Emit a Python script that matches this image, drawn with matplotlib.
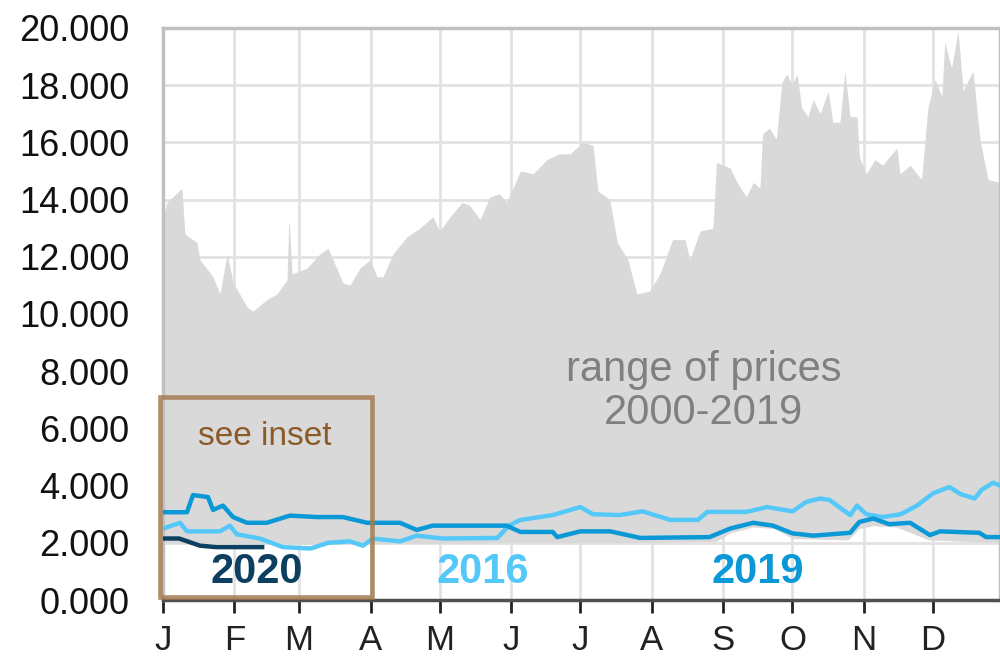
import numpy as np
import matplotlib
matplotlib.use("Agg")
import matplotlib.pyplot as plt
from matplotlib.patches import Rectangle

plt.rcParams["font.family"] = ["Liberation Sans", "DejaVu Sans"]

# ── Data (day of year, price) ─────────────────────────────────────────
month_starts = [0, 31, 59, 90, 120, 151, 181, 212, 243, 273, 304, 334]
month_labels = ["J", "F", "M", "A", "M", "J", "J", "A", "S", "O", "N", "D"]

range_hi_day = [0, 1.7, 8.2, 9.5, 14.7, 16, 21.7, 24.7, 27.8, 30.4, 36.4, 39, 45, 49.4,
                53.8, 54.6, 56, 62.4, 68, 71.6, 73.7, 78, 81, 85.4, 89.8, 92.8, 95.4,
                99.7, 105.8, 111.4, 117, 120, 124.5, 129.7, 133, 137.5, 141.8, 146, 149,
                155, 160.5, 166.5, 172, 176.5, 182, 186.5, 188.6, 193.8, 197, 201.6,
                205.5, 211, 215.5, 221, 226.4, 228.5, 232.9, 238.5, 240, 246, 249, 253,
                256, 258.9, 260, 263, 266, 268.4, 270.6, 272.8, 275, 277, 279.7, 282,
                285, 288.5, 290.5, 293.6, 295.7, 298, 301, 302, 305, 308.8, 312, 318.3,
                319.6, 324, 329, 331.7, 334.8, 337.8, 339, 342, 344.8, 347, 351.3,
                354.3, 357.8, 363]
range_hi = [13.4, 13.9, 14.4, 12.8, 12.5, 11.9, 11.3, 10.7, 12.1, 11.1, 10.25, 10.1, 10.5,
            10.7, 11.2, 13.4, 11.4, 11.6, 12.1, 12.3, 11.9, 11.1, 11.0, 11.6, 11.9, 11.3,
            11.3, 12.1, 12.7, 13.0, 13.4, 12.9, 13.4, 13.9, 13.8, 13.3, 14.1, 14.2, 13.9,
            15.0, 14.9, 15.4, 15.6, 15.6, 16.0, 15.9, 14.3, 14.0, 12.5, 11.9, 10.7, 10.8,
            11.4, 12.6, 12.6, 11.9, 12.9, 13.0, 15.3, 15.1, 14.6, 14.1, 14.6, 14.4, 16.3,
            16.5, 16.1, 18.1, 18.4, 18.0, 18.4, 17.2, 16.9, 17.5, 17.0, 17.8, 16.7, 16.7,
            18.5, 16.9, 16.9, 15.5, 14.9, 15.4, 15.2, 15.8, 14.9, 15.2, 14.7, 17.2, 18.2,
            17.6, 19.5, 18.6, 19.9, 17.8, 18.5, 16.1, 14.7, 14.6]

range_lo_day = [0, 60, 150, 200, 240, 246, 256, 265, 273, 297, 302, 308, 318, 326, 332, 363]
range_lo = [2.0, 1.95, 2.0, 2.0, 2.05, 2.35, 2.55, 2.5, 2.15, 2.1, 2.5, 2.6, 2.55, 2.3, 2.1, 2.0]

y2019_day = [0, 10.4, 13, 19.5, 21.7, 26, 30.4, 36.4, 45, 55, 66.8, 78, 88.5, 102.8, 110,
             117, 149, 155, 169, 171, 181, 194, 198, 207, 237, 246, 256, 264.5, 273, 282,
             298, 302, 308, 315, 324, 332.6, 337, 354, 357, 363]
y2019 = [3.07, 3.07, 3.67, 3.6, 3.15, 3.3, 2.9, 2.7, 2.7, 2.95, 2.9, 2.9, 2.7, 2.7, 2.45,
         2.6, 2.6, 2.38, 2.38, 2.2, 2.4, 2.4, 2.33, 2.17, 2.2, 2.5, 2.7, 2.6, 2.33, 2.25,
         2.35, 2.73, 2.85, 2.65, 2.7, 2.27, 2.4, 2.35, 2.2, 2.2]

y2016_day = [0, 7.4, 10.4, 16, 24.7, 29, 32, 42, 52, 64, 71.6, 81, 86.7, 91, 102.8, 110,
             121.4, 145, 150, 155, 169, 181, 186.5, 198, 208, 220, 232, 236, 253, 262, 273,
             279, 285, 289, 298, 301, 305, 312, 320, 327, 334, 341, 346, 352, 355, 360, 363]
y2016 = [2.5, 2.7, 2.4, 2.4, 2.4, 2.6, 2.3, 2.15, 1.85, 1.8, 2.0, 2.05, 1.9, 2.15, 2.05,
         2.25, 2.15, 2.17, 2.6, 2.8, 2.97, 3.25, 3.0, 2.97, 3.1, 2.8, 2.8, 3.08, 3.08, 3.25,
         3.1, 3.43, 3.55, 3.5, 2.97, 3.3, 3.0, 2.9, 3.0, 3.3, 3.73, 3.95, 3.7, 3.55, 3.85,
         4.1, 4.0]

y2020_day = [0, 7, 16, 23, 43]
y2020 = [2.15, 2.15, 1.9, 1.85, 1.85]

# ── Plot ──────────────────────────────────────────────────────────────
fig = plt.figure(figsize=(10, 6.6), dpi=100)
ax = fig.add_axes([0.163, 0.0909, 0.837, 0.8667])

days = np.linspace(0, 363, 1500)
hi = np.interp(days, range_hi_day, range_hi)
lo = np.interp(days, range_lo_day, range_lo)
ax.fill_between(days, lo, hi, color="#d9d9d9", linewidth=0, zorder=1)

ax.plot(y2016_day, y2016, color="#55c8fa", linewidth=3.2, zorder=3)
ax.plot(y2019_day, y2019, color="#0a98d6", linewidth=3.2, zorder=4)
ax.plot(y2020_day, y2020, color="#0d4060", linewidth=3.2, zorder=5)

ax.set_xlim(0, 363)
ax.set_ylim(0, 20)
ax.set_xticks(month_starts)
ax.set_xticklabels(month_labels)
ax.set_yticks(np.arange(0, 21, 2))
ax.set_yticklabels([f"{v:.3f}" for v in np.arange(0, 21, 2)])
ax.grid(True, color="#e2e2e2", linewidth=2.0, zorder=0)
ax.set_axisbelow(True)

ax.tick_params(axis="y", length=0, pad=24, labelsize=26, colors="#111111")
ax.tick_params(axis="x", length=9, width=2, pad=8, labelsize=25,
               colors="#222222", direction="out")

for side in ["top", "left", "right"]:
    ax.spines[side].set_color("#c0c0c0")
    ax.spines[side].set_linewidth(2.5)
ax.spines["bottom"].set_color("#505050")
ax.spines["bottom"].set_linewidth(2.5)
ax.spines["bottom"].set_zorder(6)

# Annotations
ax.text(234.6, 7.3, "range of prices\n2000-2019", color="#808080", fontsize=30,
        ha="center", va="center", linespacing=1.1, zorder=6)
ax.text(44, 5.73, "see inset", color="#8c5a28", fontsize=24,
        ha="center", va="center", zorder=6)
ax.add_patch(Rectangle((-1.3, 0.1), 91.8, 7.0, fill=False, edgecolor="#a47a50",
                       linewidth=3.3, alpha=0.85, clip_on=False, zorder=7))

ax.text(40.8, 0.98, "2020", color="#0d4060", fontsize=30, fontweight="bold",
        ha="center", va="center", zorder=6)
ax.text(138.8, 0.98, "2016", color="#55c8fa", fontsize=30, fontweight="bold",
        ha="center", va="center", zorder=6)
ax.text(258, 0.98, "2019", color="#0a98d6", fontsize=30, fontweight="bold",
        ha="center", va="center", zorder=6)

fig.savefig("out.png", dpi=100, facecolor="white")
plt.close()
